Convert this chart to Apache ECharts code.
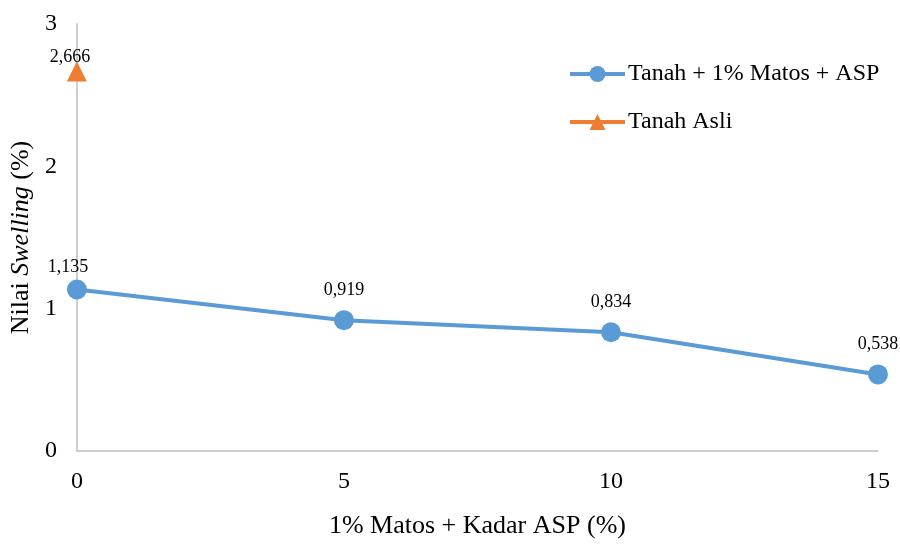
<!DOCTYPE html>
<html>
<head>
<meta charset="utf-8">
<script src="https://cdn.jsdelivr.net/npm/echarts@6/dist/echarts.min.js"></script>
<style>
  html, body { margin: 0; padding: 0; background: #fff; }
  #chart { width: 900px; height: 544px; }
</style>
</head>
<body>
<div id="chart"></div>
<script>
// Swelling values versus ASP content (with 1% Matos)
const kadarASP = [0, 5, 10, 15];
const swellingCampuran = [1.135, 0.919, 0.834, 0.538];
const kadarAsli = [0];
const swellingAsli = [2.666];
const yTicks = [0, 1, 2, 3];

const FONT = '"Liberation Serif", "Times New Roman", serif';
const fmt = v => v.toFixed(3).replace('.', ',');

const chart = echarts.init(document.getElementById('chart'), null, { renderer: 'canvas' });

// the first label sits a little lower and to the left so it clears the y axis
const campuranData = kadarASP.map((x, i) => {
  const item = { value: [x, swellingCampuran[i]] };
  if (i === 0) item.label = { offset: [-9, 8] };
  return item;
});

chart.setOption({
  animation: false,
  textStyle: { fontFamily: FONT, color: '#000' },
  grid: { left: 75, right: 22, top: 24, bottom: 91.5, containLabel: false },
  legend: {
    left: 563,
    top: 57,
    orient: 'vertical',
    itemGap: 24,
    itemWidth: 55,
    itemHeight: 20,
    lineStyle: { width: 4 },
    textStyle: { fontFamily: FONT, fontSize: 24, color: '#000', padding: [0, 0, 0, -2] },
    data: ['Tanah + 1% Matos + ASP', 'Tanah Asli']
  },
  xAxis: {
    type: 'value',
    min: 0, max: 15, interval: 5,
    axisLine: { show: true, lineStyle: { color: '#bfbfbf', width: 1.5 } },
    axisTick: { show: false },
    splitLine: { show: false },
    axisLabel: { fontFamily: FONT, fontSize: 24, color: '#000', margin: 19 },
    name: '1% Matos + Kadar ASP (%)',
    nameLocation: 'middle',
    nameGap: 62,
    nameTextStyle: { fontFamily: FONT, fontSize: 26, color: '#000' }
  },
  yAxis: {
    type: 'value',
    min: yTicks[0], max: yTicks[yTicks.length - 1], interval: 1,
    axisLine: { show: true, lineStyle: { color: '#bfbfbf', width: 1.5 } },
    axisTick: { show: false },
    splitLine: { show: false },
    axisLabel: { fontFamily: FONT, fontSize: 24, color: '#000', margin: 20 },
    name: '{n|Nilai }{i|Swelling}{n| (%)}',
    nameLocation: 'middle',
    nameRotate: 90,
    nameGap: 37,
    nameTextStyle: {
      rich: {
        n: { fontFamily: FONT, fontSize: 26, color: '#000' },
        i: { fontFamily: FONT, fontSize: 26, color: '#000', fontStyle: 'italic' }
      }
    }
  },
  series: [
    {
      name: 'Tanah + 1% Matos + ASP',
      type: 'line',
      data: campuranData,
      symbol: 'circle',
      symbolSize: 20,
      lineStyle: { color: '#5B9BD5', width: 4 },
      itemStyle: { color: '#5B9BD5' },
      label: {
        show: true,
        position: 'top',
        distance: 11,
        fontFamily: FONT,
        fontSize: 18,
        color: '#000',
        formatter: p => fmt(p.value[1])
      },
      z: 3
    },
    {
      name: 'Tanah Asli',
      type: 'line',
      data: kadarAsli.map((x, i) => [x, swellingAsli[i]]),
      symbol: 'triangle',
      symbolSize: [20, 20],
      lineStyle: { color: '#ED7D31', width: 4 },
      itemStyle: { color: '#ED7D31' },
      label: {
        show: true,
        position: 'top',
        distance: 0,
        offset: [-7, 5],
        fontFamily: FONT,
        fontSize: 18,
        color: '#000',
        formatter: p => fmt(p.value[1])
      },
      z: 4
    }
  ]
});
</script>
</body>
</html>
